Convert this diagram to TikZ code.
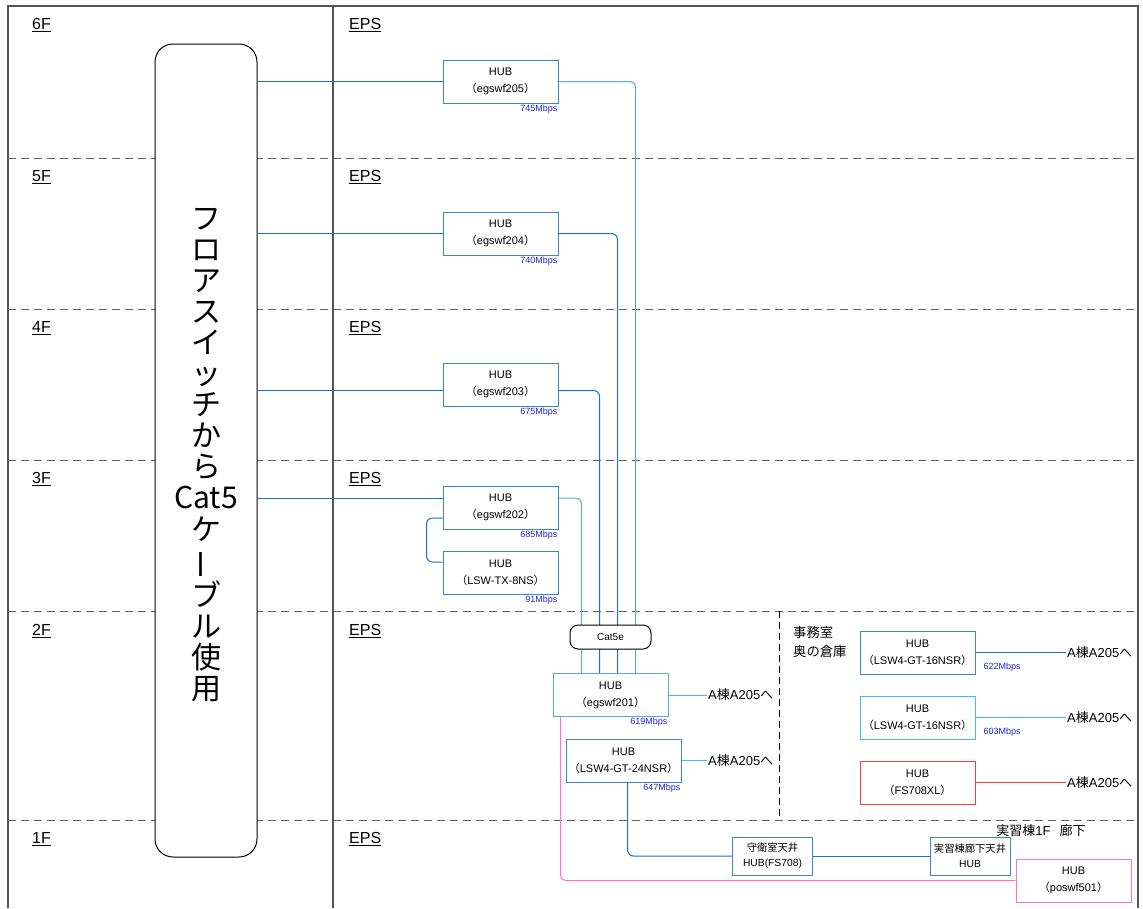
\documentclass[tikz,border=0pt]{standalone}
\usepackage{fontspec}
\usepackage{graphicx}
\setmainfont{Liberation Sans}
\newfontfamily\jp{Noto Sans CJK JP}
\newcommand{\lpar}{{\jp （}}
\newcommand{\rpar}{{\jp ）}}
\usetikzlibrary{calc}
\definecolor{framec}{HTML}{555555}
\definecolor{dashc}{HTML}{606060}
\definecolor{hubblue}{HTML}{3A88CC}
\definecolor{lineblue}{HTML}{1A72C4}
\definecolor{lightblue}{HTML}{5AAAE0}
\definecolor{cyanc}{HTML}{3CC0F0}
\definecolor{redc}{HTML}{FF3C3C}
\definecolor{pinkc}{HTML}{FF74CC}
\definecolor{speedc}{HTML}{2222E0}
\tikzset{
  hub/.style={draw=hubblue, line width=1pt, fill=white, minimum width=115pt, minimum height=43pt, inner sep=0pt, align=center, font=\fontsize{11}{17}\selectfont},
  smallhub/.style={draw=hubblue, line width=1pt, fill=white, minimum width=80pt, minimum height=38pt, inner sep=0pt, align=center, font=\fontsize{10.3}{15}\selectfont},
  speed/.style={text=speedc, font=\fontsize{9}{10}\selectfont, inner sep=1pt},
  floor/.style={anchor=west, font=\fontsize{16}{17}\selectfont, inner sep=0pt},
  dest/.style={anchor=west, font=\fontsize{13}{14}\selectfont, inner sep=1pt},
  conn/.style={line width=1pt, rounded corners=6pt},
  floorline/.style={dashc, line width=1pt, dash pattern=on 8pt off 5pt},
}
\begin{document}
\begin{tikzpicture}[x=1pt,y=-1pt]
\useasboundingbox (0,0) rectangle (1143,908);
% frame
\draw[framec, line width=1.1pt] (8,908) -- (8,6) -- (1138,6) -- (1138,908);
\draw[framec, line width=1.1pt] (333,6) -- (333,908);
% floor separators
\foreach \yy in {158,309,460,611,820} {\draw[floorline] (8,\yy) -- (1138,\yy);}
\draw[black, line width=1pt, dash pattern=on 7pt off 4pt] (779,611) -- (779,820);
% floor labels
\node[floor] (f6) at (32,25) {\underline{6F}};
\node[floor] (f5) at (32,177) {\underline{5F}};
\node[floor] (f4) at (32,328) {\underline{4F}};
\node[floor] (f3) at (32,479) {\underline{3F}};
\node[floor] (f2) at (32,631) {\underline{2F}};
\node[floor] (f1) at (32,839) {\underline{1F}};
\node[floor] (e6) at (349,25) {\underline{EPS}};
\node[floor] (e5) at (349,177) {\underline{EPS}};
\node[floor] (e4) at (349,328) {\underline{EPS}};
\node[floor] (e3) at (349,479) {\underline{EPS}};
\node[floor] (e2) at (349,631) {\underline{EPS}};
\node[floor] (e1) at (349,839) {\underline{EPS}};
% big floor switch box
\node[draw=black, line width=1pt, fill=white, rounded corners=18pt, minimum width=102pt, minimum height=813pt, inner sep=0pt] (fs) at (206,450.5) {};
\node[align=center, inner sep=0pt, font=\jp\fontsize{30}{31.1}\selectfont] (fstext) at (206,455) {フ\\ロ\\ア\\ス\\イ\\ッ\\チ\\か\\ら\\Cat5\\ケ\\\rotatebox[origin=c]{90}{ー}\\ブ\\ル\\使\\用};
% HUBs
\node[hub] (h205) at (500.5,81.5) {HUB\\\lpar egswf205\rpar};
\node[hub] (h204) at (500.5,233.5) {HUB\\\lpar egswf204\rpar};
\node[hub] (h203) at (500.5,384.5) {HUB\\\lpar egswf203\rpar};
\node[hub] (h202) at (500.5,507.5) {HUB\\\lpar egswf202\rpar};
\node[hub] (hlsw) at (500.5,572.5) {HUB\\\lpar LSW-TX-8NS\rpar};
\node[hub, draw=lightblue] (h201) at (610.5,695) {HUB\\\lpar egswf201\rpar};
\node[hub] (h24) at (623.5,760.5) {HUB\\\lpar LSW4-GT-24NSR\rpar};
\node[hub] (h16a) at (917.5,652.5) {HUB\\\lpar LSW4-GT-16NSR\rpar};
\node[hub, draw=cyanc] (h16b) at (917.5,717.5) {HUB\\\lpar LSW4-GT-16NSR\rpar};
\node[hub, draw=redc] (hfs) at (917.5,782.5) {HUB\\\lpar FS708XL\rpar};
\node[smallhub] (hsh) at (772.5,856) {{\jp 守衛室天井}\\HUB(FS708)};
\node[smallhub] (hjk) at (970,856) {{\jp 実習棟廊下天井}\\HUB};
\node[hub, draw=pinkc] (h501) at (1073.5,880.5) {HUB\\\lpar poswf501\rpar};
% speeds
\node[speed, anchor=north east] (s205) at (h205.south east) {745Mbps};
\node[speed, anchor=north east] (s204) at (h204.south east) {740Mbps};
\node[speed, anchor=north east] (s203) at (h203.south east) {675Mbps};
\node[speed, anchor=north east] (s202) at (h202.south east) {685Mbps};
\node[speed, anchor=north east] (slsw) at (hlsw.south east) {91Mbps};
\node[speed, anchor=north east] (s201) at (h201.south east) {619Mbps};
\node[speed, anchor=north east] (s24) at (h24.south east) {647Mbps};
\node[speed, anchor=north west] (s16a) at ([xshift=7pt,yshift=-9pt]h16a.east) {622Mbps};
\node[speed, anchor=north west] (s16b) at ([xshift=7pt,yshift=-9pt]h16b.east) {603Mbps};
% links from floor switch
\draw[conn, lineblue] (h205.west -| fs.east) -- (h205.west);
\draw[conn, lineblue] (h204.west -| fs.east) -- (h204.west);
\draw[conn, lineblue] ([yshift=-6pt]h203.west -| fs.east) -- ([yshift=-6pt]h203.west);
\draw[conn, lineblue] ([yshift=9.5pt]h202.west -| fs.east) -- ([yshift=9.5pt]h202.west);
\draw[conn, lineblue] ([yshift=-10.5pt]h202.west) -- ++(-16,0) |- ([yshift=10.5pt]hlsw.west);
% risers
\draw[conn, lightblue] (h205.east) -| ([xshift=83pt]h201.north west);
\draw[conn, lineblue] (h204.east) -| ([xshift=65pt]h201.north west);
\draw[conn, lineblue] ([yshift=-6pt]h203.east) -| ([xshift=47pt]h201.north west);
\draw[conn, lightblue] ([yshift=9.5pt]h202.east) -| ([xshift=29pt]h201.north west);
\node[draw=black, line width=1pt, fill=white, rounded corners=8pt, minimum width=81pt, minimum height=24pt, inner sep=0pt, font=\fontsize{10}{11}\selectfont] (cat) at (610.5,637) {Cat5e};
% destinations
\node[dest] (a201) at (707,695) {A{\jp 棟}A205{\jp へ}};
\node[dest] (a24) at (707,760.5) {A{\jp 棟}A205{\jp へ}};
\node[dest] (a16a) at (1066,652.5) {A{\jp 棟}A205{\jp へ}};
\node[dest] (a16b) at (1066,717.5) {A{\jp 棟}A205{\jp へ}};
\node[dest] (afs) at (1066,782.5) {A{\jp 棟}A205{\jp へ}};
\draw[line width=1pt, cyanc] (h201.east) -- (a201.west);
\draw[line width=1pt, cyanc] (h24.east) -- (a24.west);
\draw[line width=1pt, lineblue] (h16a.east) -- (a16a.west);
\draw[line width=1pt, cyanc] (h16b.east) -- (a16b.west);
\draw[line width=1pt, redc] (hfs.east) -- (afs.west);
% room labels
\node[dest, font=\jp\fontsize{13.3}{14}\selectfont] (r1) at (792,632) {事務室};
\node[dest, font=\jp\fontsize{13.3}{14}\selectfont] (r2) at (792,651) {奥の倉庫};
\node[font=\fontsize{13}{14}\selectfont, inner sep=0pt] (r3) at (1041,831) {{\jp 実習棟}1F\hspace{9pt}{\jp 廊下}};
% 1F links
\draw[conn, lineblue] ([xshift=62pt]h24.south west) |- (hsh.west);
\draw[line width=1pt, lineblue] (hsh.east) -- (hjk.west);
\draw[conn, pinkc] ([xshift=8pt]h201.south west) |- (h501.west);
\end{tikzpicture}
\end{document}
